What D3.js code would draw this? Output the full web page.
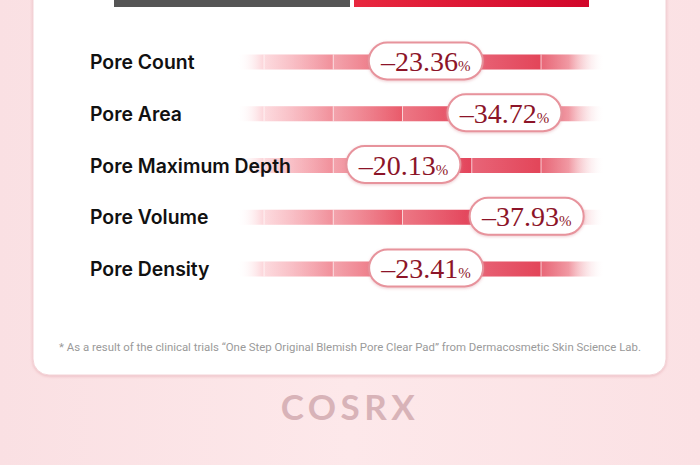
<!DOCTYPE html>
<html lang="en">
<head>
<meta charset="UTF-8">
<title>Pore improvement</title>
<script src="https://cdn.jsdelivr.net/npm/d3@7"></script>
<style>
    body { margin: 0; background: #fce4e6; }
    svg { display: block; }
    .label { font-family: 'Inter', 'Liberation Sans', sans-serif; font-size: 19.4px; font-weight: 600; fill: #111; }
    .pct { font-family: 'Liberation Serif', 'DejaVu Serif', serif; fill: #8c1428; }
    .note { font-family: 'Roboto', sans-serif; font-size: 11.4px; fill: #9a9a9a; }
    .brand { font-family: 'Lato', sans-serif; font-weight: 700; font-size: 35px; fill: #d8b3b8; letter-spacing: 4.5px; }
</style>
</head>
<body>
<svg id="img" width="700" height="465"></svg>
<script>
    var categories = ["Pore Count", "Pore Area", "Pore Maximum Depth", "Pore Volume", "Pore Density"];
    var values = [-23.36, -34.72, -20.13, -37.93, -23.41];
    var ticks = [0, 10, 20, 30, 40];
    var footnote = "* As a result of the clinical trials \u201cOne Step Original Blemish Pore Clear Pad\u201d from Dermacosmetic Skin Science Lab.";

    var svg = d3.select("#img"),
        WIDTH = 700,
        HEIGHT = 465;

    var defs = svg.append("defs");

    // page background
    var bg = defs.append("linearGradient").attr("id", "bg").attr("x1", 0).attr("x2", 1).attr("y1", 0).attr("y2", 0);
    bg.append("stop").attr("offset", "0").attr("stop-color", "#fae0e3");
    bg.append("stop").attr("offset", "0.5").attr("stop-color", "#fde8ea");
    bg.append("stop").attr("offset", "1").attr("stop-color", "#fbe1e4");
    svg.append("rect").attr("width", WIDTH).attr("height", HEIGHT).attr("fill", "url(#bg)");

    var shadow = defs.append("filter").attr("id", "shadow").attr("x", "-10%").attr("y", "-10%").attr("width", "120%").attr("height", "130%");
    shadow.append("feDropShadow").attr("dx", 0).attr("dy", 1).attr("stdDeviation", 1.5)
        .attr("flood-color", "#d98c96").attr("flood-opacity", 0.45);

    // white card
    svg.append("rect")
        .attr("x", 33).attr("y", -30).attr("width", 633).attr("height", 405)
        .attr("rx", 16)
        .attr("fill", "#fff")
        .attr("stroke", "#f3d3d7").attr("stroke-width", 1)
        .attr("filter", "url(#shadow)");

    // top legend bars
    var redTop = defs.append("linearGradient").attr("id", "redTop");
    redTop.append("stop").attr("offset", "0").attr("stop-color", "#e8283f");
    redTop.append("stop").attr("offset", "1").attr("stop-color", "#d1062a");
    svg.append("rect").attr("x", 114).attr("y", 0).attr("width", 236).attr("height", 7).attr("fill", "#555555");
    svg.append("rect").attr("x", 354).attr("y", 0).attr("width", 235).attr("height", 7).attr("fill", "url(#redTop)");

    var x = d3.scaleLinear().domain([0, 50]).range([264, 610.25]);
    var y = d3.scalePoint().domain(categories).range([62, 269]);
    var barH = 15;
    var x0 = x(-3.9), x1 = x(49.2);

    var track = defs.append("linearGradient").attr("id", "track")
        .attr("gradientUnits", "userSpaceOnUse").attr("x1", x0).attr("x2", x1).attr("y1", 0).attr("y2", 0);
    [[x0, "#ffffff", 0], [x(0), "#fcd3d8", 1], [x(10), "#f18f9a", 1], [x(20), "#e95a6a", 1],
     [x(30), "#e3435a", 1], [x(40), "#e34559", 1], [x(44), "#ef8d98", 1], [x1, "#ffffff", 0]]
        .forEach(function (s) {
            track.append("stop").attr("offset", (s[0] - x0) / (x1 - x0)).attr("stop-color", s[1]).attr("stop-opacity", s[2]);
        });

    var seg = defs.append("linearGradient").attr("id", "seg");
    seg.append("stop").attr("offset", "0").attr("stop-color", "#fff").attr("stop-opacity", 0.18);
    seg.append("stop").attr("offset", "1").attr("stop-color", "#fff").attr("stop-opacity", 0);

    var rows = svg.selectAll("g.row").data(categories).enter()
        .append("g").attr("class", "row")
        .attr("transform", function (d) { return "translate(0," + y(d) + ")"; });

    rows.append("rect")
        .attr("x", x0).attr("y", -barH / 2).attr("width", x1 - x0).attr("height", barH)
        .attr("fill", "url(#track)");

    rows.selectAll("rect.seg").data(ticks).enter()
        .append("rect").attr("class", "seg")
        .attr("x", function (t) { return x(t); }).attr("y", -barH / 2)
        .attr("width", x(10) - x(0)).attr("height", barH)
        .attr("fill", "url(#seg)");

    rows.selectAll("line.div").data(ticks).enter()
        .append("line").attr("class", "div")
        .attr("x1", function (t) { return x(t); }).attr("x2", function (t) { return x(t); })
        .attr("y1", -barH / 2).attr("y2", barH / 2)
        .attr("stroke", "#fff").attr("stroke-opacity", 0.7).attr("stroke-width", 1);

    rows.append("text").attr("class", "label")
        .attr("x", 90).attr("y", 7)
        .text(function (d) { return d; });

    var pillW = 114, pillH = 37;
    var pills = rows.append("g")
        .attr("transform", function (d, i) { return "translate(" + x(-values[i]) + ",0)"; });

    pills.append("rect")
        .attr("x", -pillW / 2).attr("y", -pillH / 2 - 1)
        .attr("width", pillW).attr("height", pillH).attr("rx", pillH / 2)
        .attr("fill", "#fff").attr("stroke", "#e7939c").attr("stroke-width", 2)
        .attr("filter", "url(#shadow)");

    var t = pills.append("text").attr("class", "pct").attr("text-anchor", "middle").attr("y", 9);
    t.append("tspan").attr("font-size", 28).text(function (d, i) { return "\u2013" + Math.abs(values[i]).toFixed(2); });
    t.append("tspan").attr("font-size", 15).text("%");

    svg.append("text").attr("class", "note")
        .attr("x", 350).attr("y", 351).attr("text-anchor", "middle")
        .text(footnote);

    svg.append("text").attr("class", "brand")
        .attr("x", 350).attr("y", 420).attr("text-anchor", "middle")
        .text("COSRX");
</script>
</body>
</html>
